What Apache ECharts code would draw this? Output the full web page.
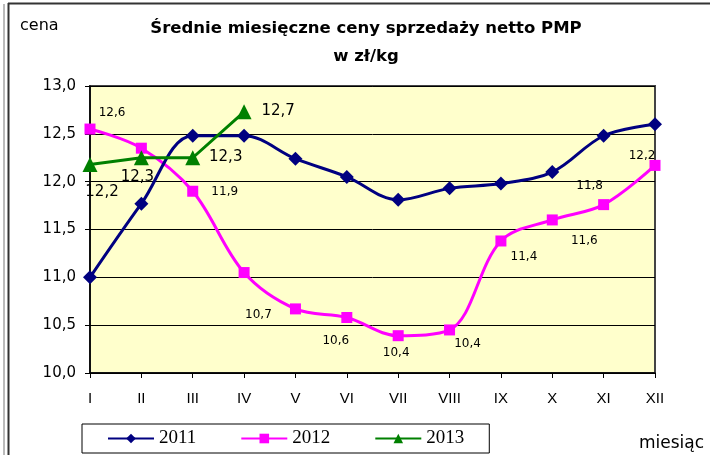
<!DOCTYPE html>
<html>
<head>
<meta charset="utf-8">
<title>Średnie miesięczne ceny sprzedaży netto PMP</title>
<script src="https://cdn.jsdelivr.net/npm/echarts@6/dist/echarts.min.js"></script>
<style>
  html, body { margin: 0; padding: 0; background: #fff; }
  #chart { width: 710px; height: 455px; }
</style>
</head>
<body>
<div id="chart"></div>
<script>
const months = ["I", "II", "III", "IV", "V", "VI", "VII", "VIII", "IX", "X", "XI", "XII"];
const prices2011 = [11.0, 11.77, 12.48, 12.48, 12.24, 12.05, 11.81, 11.93, 11.98, 12.1, 12.48, 12.6];
const prices2012 = [12.55, 12.35, 11.9, 11.05, 10.67, 10.58, 10.39, 10.45, 11.38, 11.6, 11.76, 12.17];
const prices2013 = [12.18, 12.25, 12.25, 12.73];

// label offsets (px) relative to each point; null = no label
const labelOffsets2012 = [[22, -16], null, [32, 1], null, [-37, 6], [-11, 23], [-2, 17], [18, 14], [23, 16], [32, 21], [-14, -19], [-13, -10]];
const labelOffsets2013 = [[12, 28], [-4, 19], [33, -1], [34, -1]];

const sans = "DejaVu Sans, Verdana, sans-serif";
const fmt = (v) => v.toFixed(1).replace(".", ",");

function withLabels(values, offsets, fontSize) {
  return values.map((v, i) => {
    const off = offsets[i];
    if (!off) {
      return { value: v };
    }
    return {
      value: v,
      label: {
        show: true,
        position: "inside",
        offset: off,
        formatter: (p) => fmt(p.value),
        fontSize: fontSize,
        color: "#000",
        fontFamily: sans
      }
    };
  });
}

const chart = echarts.init(document.getElementById("chart"), null, { renderer: "canvas" });

chart.setOption({
  animation: false,
  backgroundColor: "#fff",
  title: {
    text: "Średnie miesięczne ceny sprzedaży netto PMP\nw zł/kg",
    left: 361,
    top: 10,
    textAlign: "center",
    textStyle: {
      fontFamily: sans,
      fontWeight: "bold",
      fontSize: 16.5,
      lineHeight: 28,
      color: "#000"
    }
  },
  legend: {
    left: 82,
    top: 424,
    padding: [5, 25],
    itemGap: 44,
    itemWidth: 46,
    itemHeight: 12,
    backgroundColor: "#fff",
    borderColor: "#000",
    borderWidth: 1,
    borderRadius: 0,
    textStyle: {
      fontFamily: "Liberation Serif, Times New Roman, serif",
      fontSize: 19,
      color: "#000"
    },
    data: ["2011", "2012", "2013"]
  },
  grid: {
    left: 90,
    right: 55,
    top: 86,
    bottom: 82,
    show: true,
    backgroundColor: "#FFFFCC",
    borderColor: "#444",
    borderWidth: 2
  },
  xAxis: {
    type: "category",
    data: months,
    boundaryGap: false,
    axisLine: { lineStyle: { color: "#000", width: 1.5 } },
    axisTick: { show: true, length: 5, lineStyle: { color: "#000" } },
    axisLabel: {
      margin: 18,
      fontFamily: "Liberation Sans, Arial, sans-serif",
      fontSize: 15,
      color: "#000"
    }
  },
  yAxis: {
    type: "value",
    min: 10,
    max: 13,
    interval: 0.5,
    axisLine: { show: true, lineStyle: { color: "#000", width: 1.5 } },
    axisTick: { show: true, length: 5, lineStyle: { color: "#000" } },
    axisLabel: {
      margin: 14,
      formatter: fmt,
      fontFamily: sans,
      fontSize: 15,
      color: "#000"
    },
    splitLine: { lineStyle: { color: "#000", width: 1 } }
  },
  series: [
    {
      name: "2011",
      type: "line",
      data: prices2011,
      smooth: 0.35,
      symbol: "diamond",
      symbolSize: 14,
      color: "#000080",
      lineStyle: { width: 3, color: "#000080" },
      itemStyle: { color: "#000080" },
      z: 3
    },
    {
      name: "2012",
      type: "line",
      data: withLabels(prices2012, labelOffsets2012, 12),
      smooth: 0.35,
      symbol: "rect",
      symbolSize: 11,
      color: "#FF00FF",
      lineStyle: { width: 3, color: "#FF00FF" },
      itemStyle: { color: "#FF00FF" },
      z: 2
    },
    {
      name: "2013",
      type: "line",
      data: withLabels(prices2013, labelOffsets2013, 15),
      symbol: "triangle",
      symbolSize: 15,
      color: "#008000",
      lineStyle: { width: 3, color: "#008000" },
      itemStyle: { color: "#008000" },
      z: 4
    }
  ],
  graphic: [
    { type: "line", shape: { x1: 4, y1: 4, x2: 4, y2: 455 }, style: { stroke: "#777", lineWidth: 1 } },
    { type: "line", shape: { x1: 8.5, y1: 3, x2: 8.5, y2: 455 }, style: { stroke: "#333", lineWidth: 2 } },
    { type: "line", shape: { x1: 8, y1: 3.5, x2: 710, y2: 3.5 }, style: { stroke: "#333", lineWidth: 2 } },
    {
      type: "text",
      left: 20,
      top: 18,
      style: { text: "cena", font: "16px " + sans, fill: "#000" }
    },
    {
      type: "text",
      left: 639,
      top: 435,
      style: { text: "miesiąc", font: "17px " + sans, fill: "#000" }
    }
  ]
});

window.addEventListener("resize", () => chart.resize());
</script>
</body>
</html>
